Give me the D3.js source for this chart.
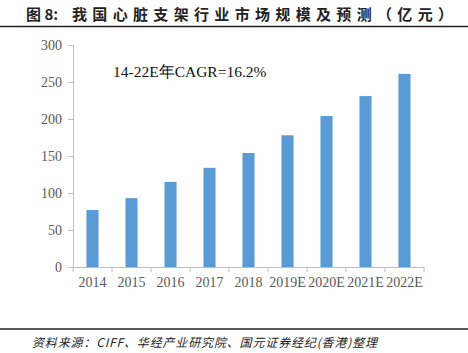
<!DOCTYPE html>
<html>
<head>
<meta charset="utf-8">
<script src="https://cdn.jsdelivr.net/npm/d3@7"></script>
<style>
  body { margin: 0; background: #fff; }
  svg { display: block; }
</style>
</head>
<body>
<svg id="chart" width="468" height="353"></svg>
<script>
const years = ["2014", "2015", "2016", "2017", "2018", "2019E", "2020E", "2021E", "2022E"];
const marketSize = [77, 93, 115, 134, 154, 178, 204, 231, 261];
const yTicks = [0, 50, 100, 150, 200, 250, 300];

const svg = d3.select("#chart");
const serif = "'Liberation Serif', 'Times New Roman', serif";
const cjk = "'Noto Sans CJK SC', sans-serif";

// title
svg.append("text")
  .attr("x", 26)
  .attr("y", 20)
  .attr("font-family", cjk)
  .attr("font-weight", "bold")
  .attr("font-size", 15)
  .attr("fill", "#222")
  .text("图 8:");

svg.append("text")
  .attr("x", 72)
  .attr("y", 20)
  .attr("font-family", cjk)
  .attr("font-weight", "bold")
  .attr("font-size", 15)
  .attr("fill", "#222")
  .attr("textLength", 381)
  .attr("lengthAdjust", "spacing")
  .text("我国心脏支架行业市场规模及预测（亿元）");

svg.append("line")
  .attr("x1", 0).attr("x2", 468)
  .attr("y1", 26.5).attr("y2", 26.5)
  .attr("stroke", "#222").attr("stroke-width", 1.5);

const x = d3.scaleBand()
  .domain(years)
  .range([73, 424])
  .paddingInner(0.69)
  .paddingOuter(0.345);

const y = d3.scaleLinear()
  .domain([0, 300])
  .range([267, 45]);

// bars
svg.selectAll("rect.bar")
  .data(years)
  .enter()
  .append("rect")
  .attr("class", "bar")
  .attr("x", d => x(d))
  .attr("width", x.bandwidth())
  .attr("y", (d, i) => y(marketSize[i]))
  .attr("height", (d, i) => y(0) - y(marketSize[i]))
  .attr("fill", "#5B9BD5");

// y axis
const yAxis = svg.append("g")
  .attr("transform", "translate(73,0)")
  .call(d3.axisLeft(y).tickValues(yTicks).tickSize(5).tickPadding(6));
yAxis.select(".domain").attr("stroke", "#bfbfbf");
yAxis.selectAll(".tick line").attr("stroke", "#bfbfbf");
yAxis.selectAll("text")
  .attr("font-family", serif)
  .attr("font-size", 14)
  .attr("fill", "#595959");

// x axis
const xAxis = svg.append("g")
  .attr("transform", "translate(0,267)")
  .call(d3.axisBottom(x).tickSize(0).tickPadding(10).tickSizeOuter(0));
xAxis.select(".domain").attr("stroke", "#bfbfbf");
xAxis.selectAll("text")
  .attr("font-family", serif)
  .attr("font-size", 14)
  .attr("fill", "#595959");

// category separator ticks
const step = x.step();
svg.selectAll("line.sep")
  .data(d3.range(years.length + 1))
  .enter()
  .append("line")
  .attr("class", "sep")
  .attr("x1", i => 73 + i * step)
  .attr("x2", i => 73 + i * step)
  .attr("y1", 267)
  .attr("y2", 272)
  .attr("stroke", "#bfbfbf");

// annotation
svg.append("text")
  .attr("x", 113)
  .attr("y", 77)
  .attr("font-family", serif)
  .attr("font-size", 15.5)
  .attr("fill", "#111")
  .text("14-22E年CAGR=16.2%");

// source
svg.append("line")
  .attr("x1", 0).attr("x2", 468)
  .attr("y1", 329).attr("y2", 329)
  .attr("stroke", "#222").attr("stroke-width", 1.5);

svg.append("text")
  .attr("x", 32)
  .attr("y", 347)
  .attr("font-family", cjk)
  .attr("font-style", "italic")
  .attr("font-size", 12)
  .attr("fill", "#222")
  .attr("textLength", 345)
  .attr("lengthAdjust", "spacing")
  .text("资料来源：CIFF、华经产业研究院、国元证券经纪(香港)整理");
</script>
</body>
</html>
